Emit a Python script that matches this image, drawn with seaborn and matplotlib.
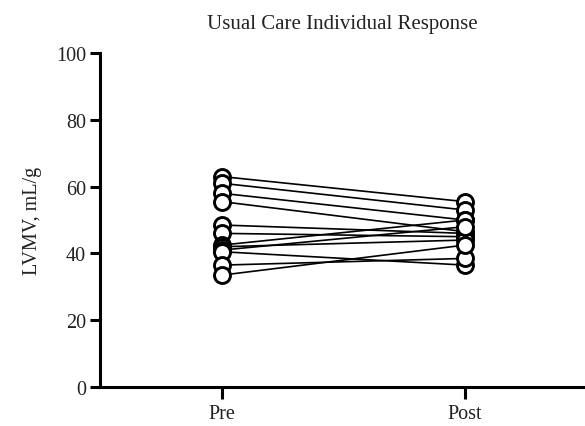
import numpy as np
import pandas as pd
import matplotlib
matplotlib.use("Agg")
import matplotlib.pyplot as plt
import seaborn as sns

# Individual LVMV values (mL/g) before and after, usual care group
timepoints = ["Pre", "Post"]
pre_values = [63.0, 61.0, 58.0, 55.5, 48.5, 46.0, 42.5, 42.0, 41.0, 40.5, 36.5, 33.5]
post_values = [55.5, 53.0, 50.0, 46.5, 46.0, 45.0, 50.0, 44.0, 48.0, 36.5, 38.5, 42.5]
y_ticks = [0, 20, 40, 60, 80, 100]

subjects = list(range(len(pre_values)))
df = pd.DataFrame({
    "subject": subjects * 2,
    "time": [timepoints[0]] * len(pre_values) + [timepoints[1]] * len(post_values),
    "value": pre_values + post_values,
})
df["pos"] = df["time"].map({t: i for i, t in enumerate(timepoints)})

sns.set_style("ticks")
plt.rcParams["font.family"] = ["Liberation Serif", "DejaVu Serif"]

fig = plt.figure(figsize=(5.85, 4.27), dpi=100)
ax = fig.add_axes([0.171, 0.0913, 0.829, 0.7822])

sns.lineplot(
    data=df, x="pos", y="value", units="subject", estimator=None,
    color="black", linewidth=1.2, marker="o", markersize=11.5,
    markerfacecolor="white", markeredgecolor="black", markeredgewidth=2.1,
    legend=False, ax=ax, zorder=3,
)

ax.set_xlim(-0.502, 1.494)
ax.set_ylim(0, 100)
ax.set_xticks(range(len(timepoints)))
ax.set_xticklabels(timepoints)
ax.set_yticks(y_ticks)
ax.set_xlabel("")
ax.set_ylabel("LVMV, mL/g", fontsize=14.5, color="#222222", labelpad=10)
ax.set_title("Usual Care Individual Response", fontsize=15, color="#222222", pad=18)

for side in ["top", "right"]:
    ax.spines[side].set_visible(False)
for side in ["left", "bottom"]:
    ax.spines[side].set_linewidth(2.2)
    ax.spines[side].set_color("black")
    ax.spines[side].set_capstyle("projecting")
ax.tick_params(axis="both", width=2.2, color="black", labelsize=14.5, labelcolor="#222222")
ax.tick_params(axis="y", length=7, pad=3)
ax.tick_params(axis="x", length=8.5, pad=4)
for ln in ax.lines:
    ln.set_clip_on(False)

fig.savefig("out.png", dpi=100)
